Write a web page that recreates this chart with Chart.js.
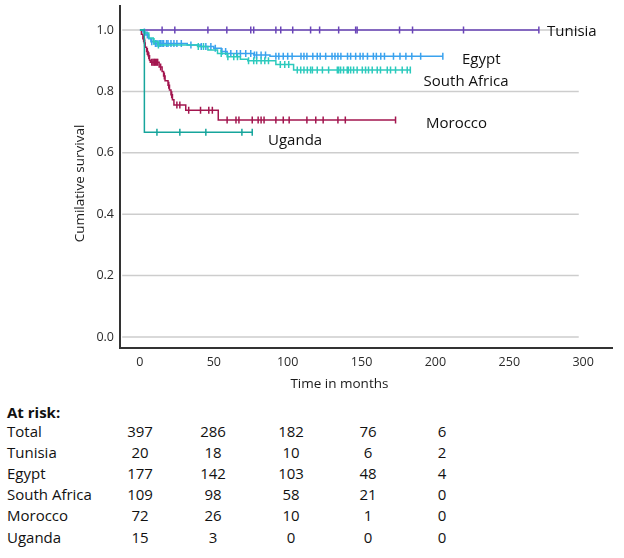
<!DOCTYPE html>
<html>
<head>
<meta charset="utf-8">
<script src="https://cdn.jsdelivr.net/npm/chart.js@4.4.1/dist/chart.umd.min.js"></script>
<style>
  body { margin: 0; background: #fff; font-family: "Open Sans", sans-serif; }
  #wrap { position: relative; width: 624px; height: 558px; overflow: hidden; }
  #km { position: absolute; left: 0; top: 0; }
  .cell { position: absolute; font-size: 15px; line-height: 21px; color: #111; white-space: nowrap; }
  .num { width: 40px; text-align: center; }
</style>
</head>
<body>
<div id="wrap">
  <canvas id="km" width="624" height="400" style="width:624px;height:400px"></canvas>
  <div id="risk"></div>
</div>
<script>
// Kaplan-Meier steps (time in months, cumulative survival)
const tunisiaTime = [0, 270];
const tunisiaSurv = [1, 1];
const tunisiaCensor = [15, 23.6, 46, 58.8, 75, 77, 92, 95.3, 103.4, 115.5, 121.6, 134.5, 146, 147, 175.7, 184.5, 219, 270];

const egyptTime = [0, 2, 4, 6, 7.4, 9.5, 32, 41, 50, 55, 59, 77, 88, 205];
const egyptSurv = [1, 0.994, 0.984, 0.972, 0.962, 0.956, 0.951, 0.946, 0.941, 0.93, 0.924, 0.919, 0.915, 0.915];
const egyptCensor = [3, 5, 8, 10.5, 11.5, 13, 14, 15, 16, 18, 19, 21, 23, 25, 28, 34.5, 41.5, 44.6, 48, 51, 55.5, 58, 61.5, 65.5, 68,
  71.6, 75, 77.5, 79, 82, 85, 92, 94, 97, 100, 103, 109, 111, 113, 117, 120, 122, 125.7, 130, 132, 134, 136, 140.5, 142.6,
  146, 149, 151, 154, 158, 160, 163, 165.5, 171.6, 176, 180, 184, 190, 205];

const safricaTime = [0, 3, 6, 9, 12, 39, 46, 52.5, 59, 68, 73, 92, 104, 183];
const safricaSurv = [1, 0.99, 0.974, 0.963, 0.951, 0.946, 0.935, 0.924, 0.913, 0.905, 0.9, 0.888, 0.87, 0.87];
const safricaCensor = [9.5, 12.5, 39.5, 43, 55, 59.5, 63.5, 66, 73.5, 77, 79, 82, 84.5, 87, 95, 98, 100.7, 106.5, 108.8, 111, 113.3,
  115.5, 116.7, 120, 123.5, 127.7, 133.6, 134.5, 135.8, 137.8, 140.3, 141, 142.6, 144.6, 147, 150.5, 152.7, 154.7, 157.2,
  160.6, 162.8, 167.4, 169.6, 173, 177.5, 180.9, 183];

const moroccoTime = [0, 1, 2, 3, 3.5, 4.5, 5.5, 6.5, 7, 13, 15, 16, 17, 19, 20, 21, 22, 23, 31, 53, 173];
const moroccoSurv = [1, 0.986, 0.972, 0.958, 0.944, 0.93, 0.916, 0.902, 0.895, 0.88, 0.865, 0.85, 0.835, 0.82, 0.805, 0.789,
  0.773, 0.756, 0.739, 0.707, 0.707];
const moroccoCensor = [2.5, 3.2, 5, 6, 8, 8.8, 9.5, 10, 10.7, 11.4, 12, 14, 16.5, 19.5, 21.5, 25, 27, 33, 41, 46.6, 49,
  59, 65, 67, 76, 80, 82, 84, 92, 97, 101, 113, 119, 124, 134, 139, 173];

const ugandaTime = [0, 3, 76];
const ugandaSurv = [1, 0.667, 0.667];
const ugandaCensor = [11.5, 27, 44.6, 69, 76];

const xTicks = [0, 50, 100, 150, 200, 250, 300];
const yTicks = [0, 0.2, 0.4, 0.6, 0.8, 1.0];

// numbers at risk at 0, 50, 100, 150, 200 months
const riskGroups = ['Total', 'Tunisia', 'Egypt', 'South Africa', 'Morocco', 'Uganda'];
const riskTotal = [397, 286, 182, 76, 6];
const riskTunisia = [20, 18, 10, 6, 2];
const riskEgypt = [177, 142, 103, 48, 4];
const riskSAfrica = [109, 98, 58, 21, 0];
const riskMorocco = [72, 26, 10, 1, 0];
const riskUganda = [15, 3, 0, 0, 0];

function survAt(times, surv, t) {
  let s = surv[0];
  for (let i = 0; i < times.length; i++) if (times[i] <= t) s = surv[i];
  return s;
}

function curve(times, surv, color) {
  return {
    data: times.map((t, i) => ({ x: t, y: surv[i] })),
    showLine: true, stepped: true, borderColor: color, borderWidth: 1.5,
    pointRadius: 0, fill: false
  };
}

function censors(list, times, surv, color) {
  return {
    data: list.map(t => ({ x: t, y: survAt(times, surv, t) })),
    showLine: false, pointStyle: 'line', rotation: 90, pointRadius: 3.5,
    pointBorderColor: color, pointBorderWidth: 1.5, borderColor: color
  };
}

const groups = [
  { name: 'Uganda', time: ugandaTime, surv: ugandaSurv, cens: ugandaCensor, color: '#16a59c', label: [86.7, 0.639] },
  { name: 'South Africa', time: safricaTime, surv: safricaSurv, cens: safricaCensor, color: '#2ccabd', label: [192, 0.832] },
  { name: 'Egypt', time: egyptTime, surv: egyptSurv, cens: egyptCensor, color: '#3aa2ee', label: [218, 0.902] },
  { name: 'Morocco', time: moroccoTime, surv: moroccoSurv, cens: moroccoCensor, color: '#a3164f', label: [193.6, 0.694] },
  { name: 'Tunisia', time: tunisiaTime, surv: tunisiaSurv, cens: tunisiaCensor, color: '#6a45b8', label: [275.5, 0.994] }
];

const datasets = [];
groups.forEach(g => {
  datasets.push(curve(g.time, g.surv, g.color));
  datasets.push(censors(g.cens, g.time, g.surv, g.color));
});

// horizontal reference lines that stop short of the axis end, as in the figure
const gridPlugin = {
  id: 'kmGrid',
  beforeDatasetsDraw(chart) {
    const { ctx, scales: { x, y } } = chart;
    const x0 = x.getPixelForValue(-12), x1 = x.getPixelForValue(297);
    ctx.save();
    ctx.strokeStyle = '#cdcdcd';
    ctx.lineWidth = 1.5;
    yTicks.forEach(v => {
      const py = y.getPixelForValue(v);
      ctx.beginPath(); ctx.moveTo(x0, py); ctx.lineTo(x1, py); ctx.stroke();
    });
    ctx.restore();
  }
};

// curve names next to their lines, and the axis titles (placed off-centre like the original)
const labelPlugin = {
  id: 'kmLabels',
  afterDatasetsDraw(chart) {
    const { ctx, scales: { x, y } } = chart;
    ctx.save();
    ctx.font = '15px "Open Sans"';
    ctx.fillStyle = '#111';
    ctx.textAlign = 'left';
    ctx.textBaseline = 'middle';
    groups.forEach(g => {
      ctx.fillText(g.name, x.getPixelForValue(g.label[0]), y.getPixelForValue(g.label[1]));
    });
    ctx.font = '13.5px "Open Sans"';
    ctx.fillStyle = '#1a1a1a';
    ctx.textAlign = 'center';
    ctx.fillText('Time in months', x.getPixelForValue(135), 384);
    ctx.translate(80, y.getPixelForValue(0.5));
    ctx.rotate(-Math.PI / 2);
    ctx.fillText('Cumilative survival', 0, 0);
    ctx.restore();
  }
};

Chart.defaults.font.family = '"Open Sans", sans-serif';

new Chart(document.getElementById('km'), {
  type: 'scatter',
  data: { datasets },
  options: {
    responsive: false,
    animation: false,
    layout: { padding: { top: 5, right: 12, left: 62, bottom: 0 } },
    plugins: { legend: { display: false }, tooltip: { enabled: false } },
    scales: {
      x: {
        type: 'linear', min: -13.5, max: 319.5,
        grid: { display: false, drawTicks: false },
        border: { display: true, color: '#333', width: 2 },
        ticks: { color: '#2a2a2a', font: { size: 12.5 }, padding: 7 },
        afterBuildTicks: s => { s.ticks = xTicks.map(v => ({ value: v })); },
        afterFit: s => { s.height = 52; }
      },
      y: {
        type: 'linear', min: -0.036, max: 1.08,
        grid: { display: false, drawTicks: false },
        border: { display: true, color: '#333', width: 2 },
        ticks: { color: '#2a2a2a', font: { size: 12.5 }, padding: 6, callback: v => v.toFixed(1) },
        afterBuildTicks: s => { s.ticks = yTicks.map(v => ({ value: v })); },
        afterFit: s => { s.width = 58; s.paddingTop = 0; s.paddingBottom = 0; }
      }
    }
  },
  plugins: [gridPlugin, labelPlugin]
});

// at-risk table
const risk = document.getElementById('risk');
const riskRows = [riskTotal, riskTunisia, riskEgypt, riskSAfrica, riskMorocco, riskUganda];
const colCentres = [140, 213, 291, 368, 442];
function cell(text, left, top, cls, bold) {
  const d = document.createElement('div');
  d.className = 'cell ' + (cls || '');
  d.textContent = text;
  d.style.left = left + 'px';
  d.style.top = top + 'px';
  if (bold) d.style.fontWeight = '700';
  risk.appendChild(d);
}
cell('At risk:', 7, 402, '', true);
riskGroups.forEach((name, r) => {
  const top = 421 + r * 21.1;
  cell(name, 7, top);
  riskRows[r].forEach((n, c) => cell(String(n), colCentres[c] - 20, top, 'num'));
});
</script>
</body>
</html>
